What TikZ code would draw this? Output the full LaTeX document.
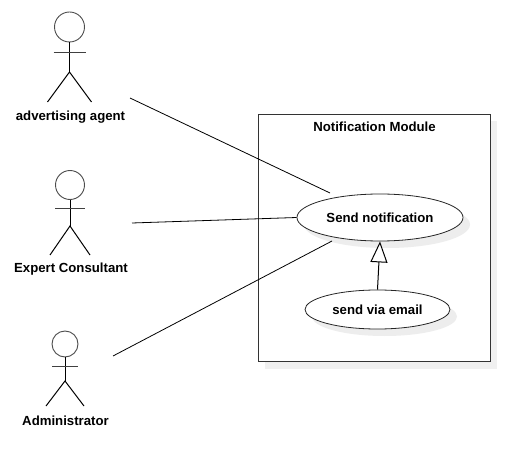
\documentclass[tikz,border=0pt]{standalone}
\usepackage{fontspec}
\setmainfont{Liberation Sans}
\usetikzlibrary{arrows.meta,shapes.geometric,shadows}
\tikzset{
  usecase/.style={draw=black!85,ellipse,fill=white,inner sep=0pt,line width=.8pt,font=\fontsize{13.2}{15}\selectfont\bfseries,
    drop shadow={shadow xshift=7pt,shadow yshift=-7pt,fill=black!7,opacity=1}},
  actorhead/.style={draw=black!70,circle,fill=white,inner sep=0pt,line width=.9pt},
  actorlabel/.style={font=\fontsize{13.2}{15}\selectfont\bfseries,inner sep=0pt},
  actorline/.style={line width=1pt},
  assoc/.style={line width=.8pt},
  extends/.style={line width=1pt,-{Triangle[open,fill=white,length=21pt,width=17pt]}}
}
\begin{document}
\begin{tikzpicture}[x=1pt,y=-1pt]
\useasboundingbox (0,0) rectangle (530,473);
\fill[black!6] (265,121) rectangle (497,369);
\node[draw=black!80,fill=white,line width=.8pt,inner sep=0pt,minimum width=232pt,minimum height=247pt] at (374,237.5)(module){};
\node[actorlabel] at (374.5,126.5)(moduleLabel){Notification Module};
% name/x/head centre/radius/arm half width/arm y/hip y/feet y/leg half width/label y/label x/text
\foreach \a/\x/\y/\r/\w/\arm/\hip/\foot/\leg/\ly/\lx/\txt in {
    agent/69.5/27/15/16/53/72/102/22/117.5/70.5/advertising agent,
    expert/70/185/14.5/15/209/226/255/20/269.5/71/Expert Consultant,
    admin/65/344/13/13/366/381/406/19/421/65.5/Administrator}{
    \node[actorhead,minimum size=2*\r pt] at (\x,\y)(\a Head){};
    \coordinate (\a Hip) at (\x,\hip);
    \draw[actorline] (\a Head) -- (\a Hip);
    \draw[actorline,black!75] (\x-\w,\arm) -- (\x+\w,\arm);
    \draw[actorline] (\x-\leg,\foot) -- (\a Hip) -- (\x+\leg,\foot);
    \node[actorlabel] at (\lx,\ly)(\a Label){\txt};
}
\node[usecase,minimum width=166pt,minimum height=47pt] at (380,217.5)(send){Send notification};
\node[usecase,minimum width=145pt,minimum height=39pt] at (377.5,309.5)(email){send via email};
\coordinate (agentEnd) at (130,98);
\coordinate (expertEnd) at (132,223);
\coordinate (adminEnd) at (113,356);
\coordinate (sendAgent) at (330,193);
\coordinate (sendAdmin) at (332,241);
\draw[assoc] (agentEnd) -- (sendAgent);
\draw[assoc] (expertEnd) -- (send.west);
\draw[assoc] (adminEnd) -- (sendAdmin);
\draw[extends] (email.north) -- (send.south);
\end{tikzpicture}
\end{document}
